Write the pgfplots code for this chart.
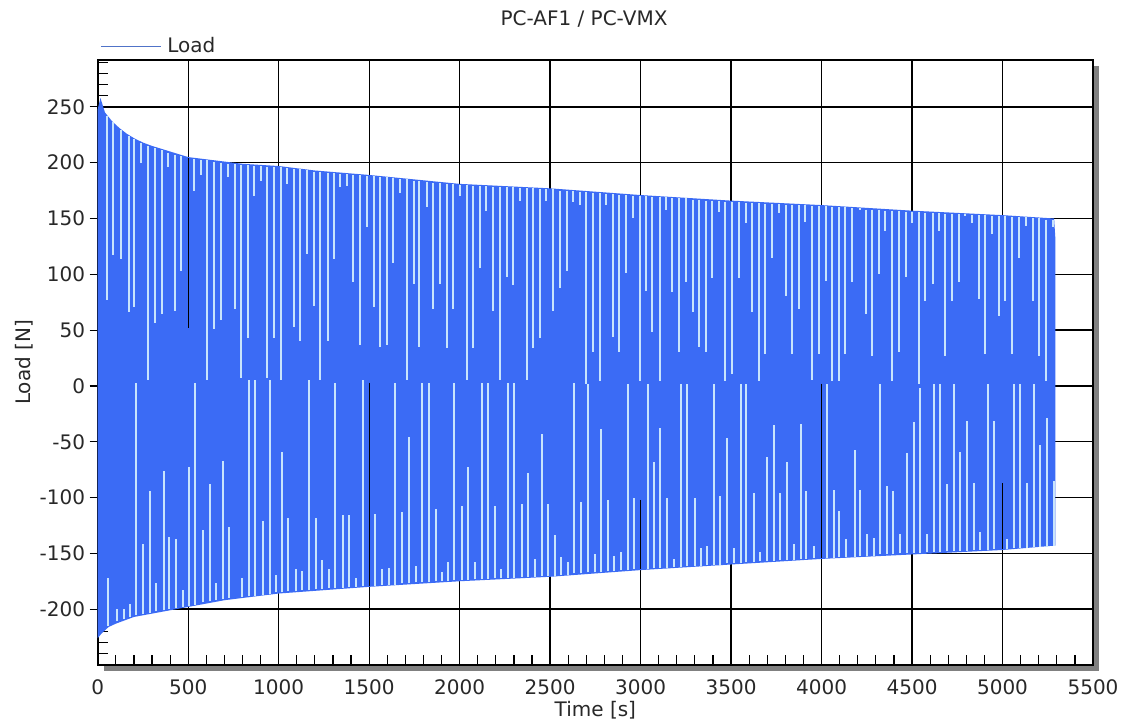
\documentclass[border=0pt]{standalone}
\usepackage{fontspec}
\setmainfont{DejaVu Sans}
\usepackage{pgfplots}
\usepackage{pgfplotstable}
\pgfplotsset{compat=1.18}

\definecolor{loadblue}{RGB}{59,107,245}
\definecolor{gapcol}{RGB}{200,228,252}
\definecolor{legblue}{RGB}{80,115,200}
\definecolor{txt}{RGB}{40,40,40}

% envelope of the load signal: upper edge, then lower edge back to t=0
\pgfplotstableread{
t y
0 248
15 258
40 245
80 237
120 231
160 226
200 222
250 218
300 215
400 210
500 205
600 203
700 201
800 199
1000 197
1200 193
1500 189
2000 181
2500 177
3000 171
3500 166
4000 162
4500 157
5000 153
5285 150
5292 132
5292 -143
5000 -147
4500 -151
4000 -155
3500 -160
3000 -165
2500 -171
2000 -175
1500 -180
1000 -186
700 -192
500 -198
400 -201
300 -204
200 -207
100 -213
60 -216
20 -222
0 -226
}\envelope

% light gaps in the dense trace: time, start, end
\pgfplotstableread{
t a b
51 242 77
83 236 117
131 229 114
171 224 66
202 221 71
241 218 200
276 215 5
315 213 56
355 211 64
388 209 196
429 207 67
460 206 103
530 203 175
570 202 189
604 202 5
644 201 51
681 200 59
718 199 187
756 199 69
791 198 7
828 198 43
861 197 170
902 197 184
935 196 7
972 196 43
1014 196 5
1045 195 181
1086 194 53
1119 194 40
1156 193 118
1196 192 72
1229 192 5
1270 191 40
1303 191 114
1340 190 178
1377 190 179
1413 189 93
1450 189 37
1487 188 142
1528 188 71
1561 187 35
1597 187 37
1634 186 110
1671 185 173
1708 185 5
1745 184 91
1778 184 35
1818 183 160
1855 182 69
1892 182 91
1929 181 34
1966 181 69
2002 180 170
2039 180 5
2076 179 34
2113 179 106
2146 179 157
2187 178 67
2223 178 5
2260 178 98
2293 178 90
2334 177 166
2371 177 5
2407 177 34
2444 176 43
2477 176 166
2518 176 67
2555 175 88
2592 175 103
2628 175 165
2665 174 162
2700 174 2
2737 173 30
2774 173 4
2807 172 162
2847 172 44
2881 171 30
2917 171 101
2958 170 150
2995 170 4
3031 170 85
3065 169 48
3105 169 4
3138 169 158
3175 168 84
3212 168 30
3249 168 93
3289 167 66
3322 167 35
3359 166 30
3396 166 97
3433 166 156
3468 165 4
3505 165 11
3543 165 97
3580 164 146
3617 164 66
3654 164 4
3690 163 29
3727 163 115
3764 163 155
3801 162 81
3838 162 29
3875 162 69
3911 162 147
3948 161 5
3985 161 29
4022 161 94
4059 160 4
4096 160 4
4132 160 29
4169 159 93
4210 159 158
4246 158 64
4279 158 27
4316 158 100
4353 157 139
4390 157 4
4427 157 30
4464 156 98
4500 156 146
4537 156 2
4574 155 76
4614 155 91
4648 155 139
4684 154 27
4721 154 76
4758 154 93
4795 154 152
4832 153 146
4869 153 78
4905 153 29
4942 152 136
4979 152 63
5016 152 76
5053 151 29
5089 151 115
5130 151 143
5167 150 76
5203 150 27
5240 149 4
5277 149 142
57 -215 -172
107 -211 -200
143 -209 -200
180 -207 -195
213 -205 3
250 -204 -142
291 -203 -94
324 -202 -177
364 -201 -76
395 -200 -135
434 -199 -137
471 -198 -183
506 -197 -73
539 -196 3
581 -194 -129
622 -193 -88
653 -192 -177
692 -191 -67
727 -190 -126
797 -189 -172
837 -188 5
867 -188 5
911 -187 -121
950 -186 5
985 -185 -169
1021 -185 -59
1054 -184 -118
1095 -184 -164
1128 -183 -166
1169 -183 5
1205 -182 -118
1242 -182 -156
1279 -181 -164
1312 -181 3
1353 -181 -116
1386 -180 -116
1428 -180 -172
1465 -179 5
1533 -179 -115
1570 -178 -164
1610 -178 -163
1644 -178 3
1680 -177 -113
1721 -177 -46
1758 -176 -161
1794 -176 3
1828 -176 3
1868 -175 -110
1901 -175 -167
1938 -175 -158
1971 -174 3
2012 -174 -108
2048 -174 -73
2085 -173 -158
2122 -173 3
2155 -173 3
2196 -172 -108
2229 -172 -164
2269 -172 3
2301 -172 3
2343 -171 -106
2380 -171 -78
2417 -171 -155
2453 -170 -43
2487 -170 -106
2527 -170 -134
2560 -169 -153
2597 -169 -158
2632 -168 3
2670 -168 -104
2709 -167 2
2746 -167 -151
2783 -167 -39
2820 -166 -102
2853 -166 -152
2890 -165 -149
2930 -165 2
2963 -164 -100
3041 -164 2
3072 -163 -68
3109 -163 -38
3146 -163 -100
3184 -162 -155
3225 -162 2
3256 -161 2
3298 -161 -100
3332 -161 -145
3368 -160 -143
3403 -160 2
3440 -160 -99
3479 -159 -47
3514 -159 -145
3552 -159 2
3584 -158 2
3624 -158 -96
3661 -157 -149
3698 -157 -64
3736 -157 -35
3771 -156 -96
3810 -156 -68
3845 -156 -142
3884 -155 -34
3915 -155 -94
3957 -154 -143
4029 -154 2
4068 -154 -93
4099 -153 -112
4136 -153 -137
4182 -153 -57
4215 -152 -93
4252 -152 -133
4287 -152 -136
4325 -151 2
4360 -151 -90
4397 -151 -94
4436 -150 -133
4473 -150 -60
4510 -150 -32
4543 -150 -2
4581 -149 -133
4620 -149 2
4657 -149 2
4694 -148 -88
4734 -148 2
4767 -148 -59
4804 -148 -31
4841 -147 -87
4878 -147 -131
4920 -147 2
4951 -146 -31
5025 -146 -137
5062 -145 2
5097 -145 2
5136 -145 -87
5176 -144 2
5209 -144 -53
5246 -144 -29
5283 -143 -85
}\gaps

% gaps that fall on a grid line (grid shows through)
\pgfplotstableread{
t a b
500 204 52
1500 3 -179
3000 -102 -164
4000 2 -154
5000 -87 -146
}\gridgaps

\begin{document}
\begin{tikzpicture}
  \useasboundingbox (-73.3pt,-44.25pt) rectangle (769pt,498.75pt);
  % drop shadow of the plot area
  \fill[black!50] (5pt,-4.5pt) rectangle (751pt,449.25pt);
  \begin{axis}[
    at={(0,0)}, anchor=south west,
    scale only axis,
    width=746.5pt, height=453.75pt,
    xmin=0, xmax=5500, ymin=-250, ymax=292,
    xtick={0,500,...,5500},
    ytick={-200,-150,...,250},
    minor xtick={100,200,...,5400},
    minor ytick={-240,-230,...,290},
    tick pos=left,
    tick align=outside,
    major tick length=6pt,
    minor tick length=7.5pt,
    tick style={black, line width=0.9pt},
    major x tick style={draw=none},
    minor x tick style={yshift=7.5pt},
    minor y tick style={xshift=7.5pt},
    grid=major,
    major grid style={black, line width=1pt},
    axis line style={black, line width=1.4pt},
    axis background/.style={fill=white},
    /pgf/number format/assume math mode=true,
    /pgf/number format/1000 sep={},
    tick label style={font=\fontsize{15}{18}\selectfont, text=txt},
    xticklabel style={yshift=-1.5pt},
    label style={font=\fontsize{15}{18}\selectfont, text=txt},
    title style={font=\fontsize{15}{18}\selectfont, text=txt,
      at={(axis description cs:0.4886,1)}, anchor=base, yshift=19.5pt},
    title={PC-AF1 / PC-VMX},
    xlabel={Time [s]},
    xlabel style={at={(axis description cs:0.5,0)}, anchor=base, yshift=-38.6pt},
    ylabel={Load [N]},
    ylabel style={at={(axis description cs:-0.0741,0.5)}, anchor=center},
    legend style={at={(axis description cs:0,1)}, anchor=south west,
      draw=none, fill=none, inner sep=0pt, xshift=1.7pt, yshift=1.75pt,
      font=\fontsize{15}{18}\selectfont, text=txt},
    legend image code/.code={\draw[#1] (0pt,0pt) -- (45pt,0pt);},
    legend cell align=left,
    legend style={/tikz/every even column/.append style={column sep=0pt}},
    legend style={nodes={inner xsep=4.5pt}},
  ]
    \addplot[fill=loadblue, draw=none, forget plot] table[x=t, y=y] {\envelope};
    \addplot[gapcol, line width=1.5pt, forget plot,
      quiver={u=0, v=\thisrow{b}-\thisrow{a}}] table[x=t, y=a] {\gaps};
    \addplot[black, line width=1pt, forget plot,
      quiver={u=0, v=\thisrow{b}-\thisrow{a}}] table[x=t, y=a] {\gridgaps};
    \addlegendimage{legblue, line width=0.8pt}
    \addlegendentry{Load}
  \end{axis}
\end{tikzpicture}
\end{document}
